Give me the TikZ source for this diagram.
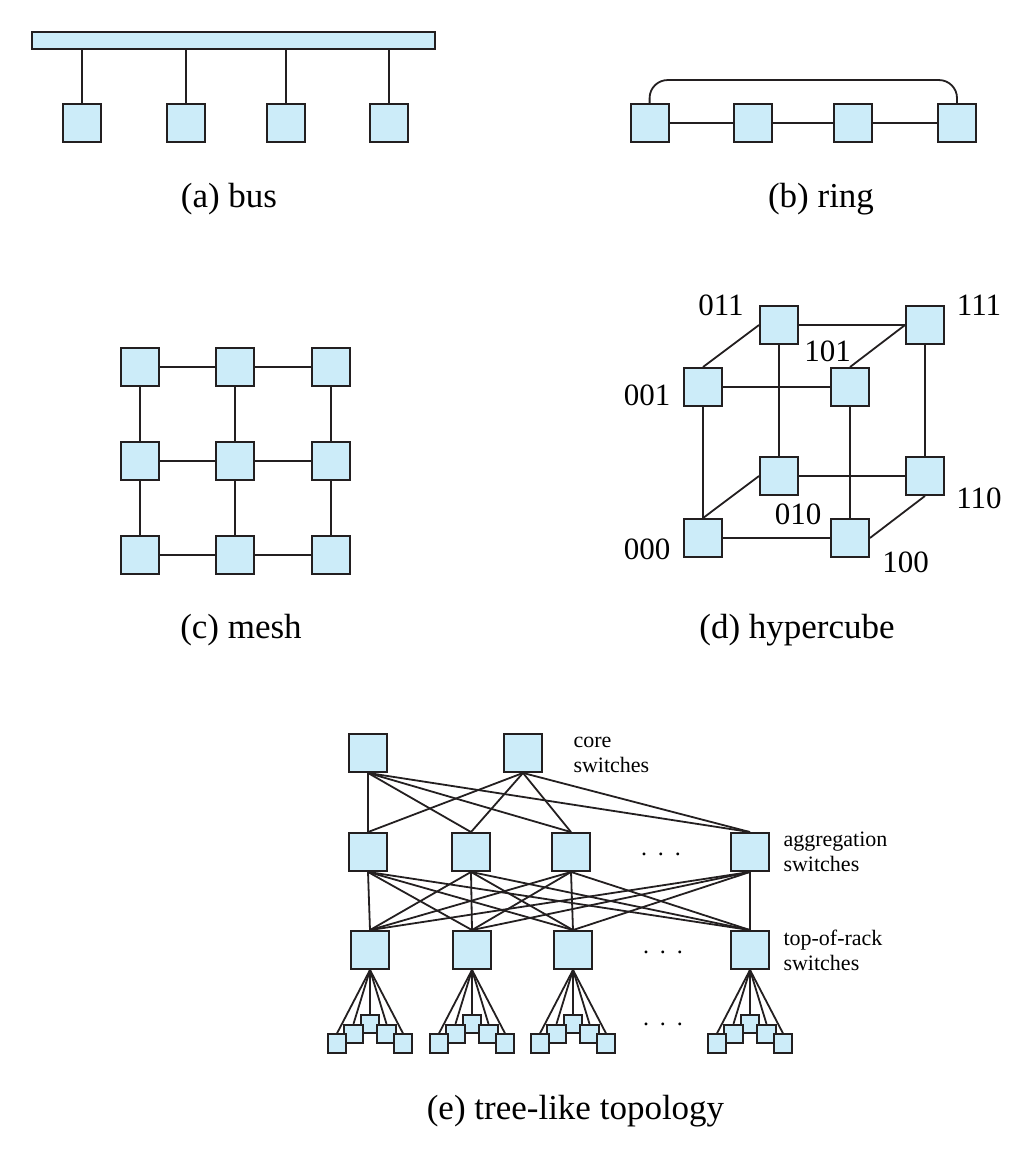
\documentclass[tikz,border=0pt]{standalone}
\usepackage{fontspec}
\setmainfont{Liberation Serif}
\usetikzlibrary{positioning, backgrounds}
\definecolor{boxblue}{RGB}{204,236,249}
\definecolor{linegray}{RGB}{35,31,32}

\tikzset{
  sw/.style={draw=linegray, line width=1.9pt, fill=boxblue, rectangle, minimum size=38pt, inner sep=0pt},
  leaf/.style={sw, minimum size=18.4pt},
  wire/.style={draw=linegray, line width=1.8pt},
  figcap/.style={font=\fontsize{35}{40}\selectfont},
  cubelbl/.style={font=\fontsize{31}{36}\selectfont},
  treelbl/.style={font=\fontsize{22}{25}\selectfont, align=left, anchor=west},
  dotsrow/.style={font=\fontsize{24}{28}\selectfont}
}

\begin{document}
\begin{tikzpicture}[x=1pt, y=-1pt]
    \useasboundingbox (0,0) rectangle (1033,1157);

    % (a) bus
    \node[sw, minimum width=403pt, minimum height=17pt] (bar) at (233.5,40.5) {};
    \node[sw] (bus1) at (82,123) {};
    \node[sw] (bus2) at (185.7,123) {};
    \node[sw] (bus3) at (285.7,123) {};
    \node[sw] (bus4) at (389,123) {};
    \foreach \i in {1,...,4}
        \draw[wire] (bus\i.north) -- (bus\i.north |- bar.south);
    \node[figcap] (capA) at (229,199) {(a) bus};

    % (b) ring
    \node[sw] (ring1) at (649.6,123) {};
    \node[sw] (ring2) at (753,123) {};
    \node[sw] (ring3) at (853,123) {};
    \node[sw] (ring4) at (957,123) {};
    \draw[wire] (ring1) -- (ring2) -- (ring3) -- (ring4);
    \draw[wire, rounded corners=18pt] (ring1.north) -- ++(0,-23) -| (ring4.north);
    \node[figcap] (capB) at (821,199) {(b) ring};

    % (c) mesh
    \node[sw] (m11) at (140,367) {};
    \node[sw] (m12) at (235,367) {};
    \node[sw] (m13) at (331,367) {};
    \node[sw] (m21) at (140,461) {};
    \node[sw] (m22) at (235,461) {};
    \node[sw] (m23) at (331,461) {};
    \node[sw] (m31) at (140,555) {};
    \node[sw] (m32) at (235,555) {};
    \node[sw] (m33) at (331,555) {};
    \draw[wire] (m11) -- (m12) -- (m13);
    \draw[wire] (m21) -- (m22) -- (m23);
    \draw[wire] (m31) -- (m32) -- (m33);
    \draw[wire] (m11) -- (m21) -- (m31);
    \draw[wire] (m12) -- (m22) -- (m32);
    \draw[wire] (m13) -- (m23) -- (m33);
    \node[figcap] (capC) at (241,630) {(c) mesh};

    % (d) hypercube
    \node[sw] (h011) at (779,325) {};
    \node[sw] (h111) at (925,325) {};
    \node[sw] (h001) at (703,387) {};
    \node[sw] (h101) at (850,387) {};
    \node[sw] (h010) at (779,476) {};
    \node[sw] (h110) at (925,476) {};
    \node[sw] (h000) at (703,538) {};
    \node[sw] (h100) at (850,538) {};
    \draw[wire] (h011) -- (h111);
    \draw[wire] (h001) -- (h101);
    \draw[wire] (h010) -- (h110);
    \draw[wire] (h000) -- (h100);
    \draw[wire] (h011) -- (h010);
    \draw[wire] (h001) -- (h000);
    \draw[wire] (h111) -- (h110);
    \draw[wire] (h101) -- (h100);
    \draw[wire] (h011.west) -- (h001.north);
    \draw[wire] (h111.west) -- (h101.north);
    \draw[wire] (h010.west) -- (h000.north);
    \draw[wire] (h110.south) -- (h100.east);
    \node[cubelbl] (l011) at (721,305) {011};
    \node[cubelbl] (l111) at (979,305) {111};
    \node[cubelbl] (l101) at (827.5,351) {101};
    \node[cubelbl] (l001) at (647,395.5) {001};
    \node[cubelbl] (l110) at (979,498) {110};
    \node[cubelbl] (l010) at (798,514.7) {010};
    \node[cubelbl] (l000) at (647,549) {000};
    \node[cubelbl] (l100) at (905.5,562.5) {100};
    \node[figcap] (capD) at (797,630) {(d) hypercube};

    % (e) tree-like topology
    \node[sw] (core1) at (368,753) {};
    \node[sw] (core2) at (523,753) {};
    \node[sw] (agg1) at (368,852) {};
    \node[sw] (agg2) at (471,852) {};
    \node[sw] (agg3) at (571,852) {};
    \node[sw] (agg4) at (750,852) {};
    \node[sw] (tor1) at (370,950) {};
    \node[sw] (tor2) at (472,950) {};
    \node[sw] (tor3) at (573,950) {};
    \node[sw] (tor4) at (750,950) {};

    % racks under each top-of-rack switch, back ones first
    \foreach \t in {1,...,4} {
        \node[leaf] (lf\t3) at ([shift={(0,74)}]tor\t.center) {};
        \node[leaf] (lf\t2) at ([shift={(-16.5,84)}]tor\t.center) {};
        \node[leaf] (lf\t4) at ([shift={(16.5,84)}]tor\t.center) {};
        \node[leaf] (lf\t1) at ([shift={(-33,93.5)}]tor\t.center) {};
        \node[leaf] (lf\t5) at ([shift={(33,93.5)}]tor\t.center) {};
    }

    \begin{scope}[on background layer]
        \foreach \c in {1,2}
            \foreach \a in {1,...,4}
                \draw[wire] (core\c.south) -- (agg\a.north);
        \foreach \a in {1,...,4}
            \foreach \t in {1,...,4}
                \draw[wire] (agg\a.south) -- (tor\t.north);
        \foreach \t in {1,...,4}
            \foreach \k in {1,...,5}
                \draw[wire] (tor\t.south) -- (lf\t\k.north);
    \end{scope}

    \node[dotsrow] (dagg) at (661,854) {.\hspace{0.45em}.\hspace{0.45em}.};
    \node[dotsrow] (dtor) at (663,952) {.\hspace{0.45em}.\hspace{0.45em}.};
    \node[dotsrow] (dlf) at (663,1024) {.\hspace{0.45em}.\hspace{0.45em}.};

    \node[treelbl] (lcore) at (570,755) {core\\switches};
    \node[treelbl] (lagg) at (780,852) {aggregation\\switches};
    \node[treelbl] (ltor) at (780,950) {top-of-rack\\switches};
    \node[figcap] (capE) at (575.5,1111) {(e) tree-like topology};
\end{tikzpicture}
\end{document}
